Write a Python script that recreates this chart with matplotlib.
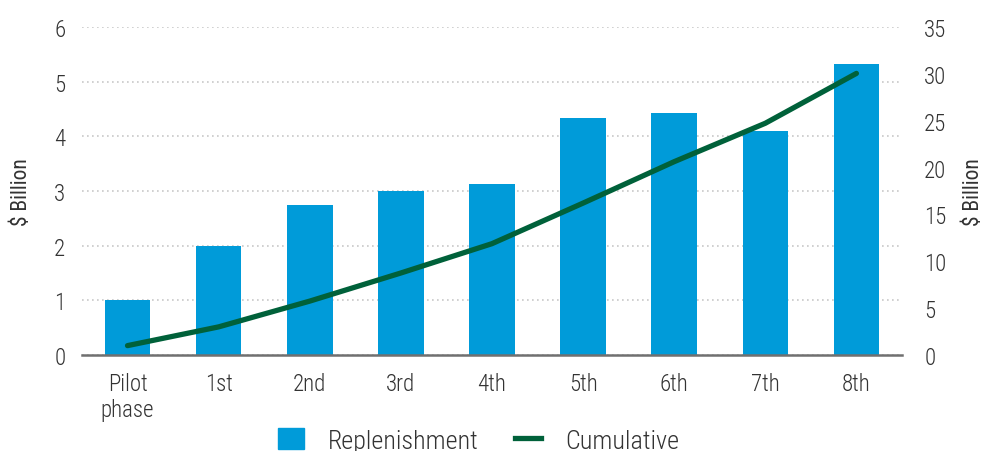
import matplotlib.pyplot as plt
from matplotlib import font_manager
from matplotlib.lines import Line2D
from matplotlib.patches import Patch

names = {f.name for f in font_manager.fontManager.ttflist}
family = next((n for n in ['Roboto Condensed', 'Liberation Sans Narrow', 'Roboto'] if n in names), 'DejaVu Sans')
plt.rcParams['font.family'] = [family, 'DejaVu Sans']
plt.rcParams['font.weight'] = 'light'

# Replenishment rounds, $ billion
phases = ['Pilot\nphase', '1st', '2nd', '3rd', '4th', '5th', '6th', '7th', '8th']
replenishment = [1.0, 2.0, 2.75, 3.0, 3.13, 4.33, 4.42, 4.1, 5.32]
cumulative = [1.0, 3.0, 5.75, 8.75, 11.88, 16.21, 20.63, 24.73, 30.05]

bar_color = '#009BD9'
line_color = '#00613A'
text_color = '#333333'

fig = plt.figure(figsize=(9.85, 4.52), dpi=100)
ax = fig.add_axes([0.0832, 0.2124, 0.8325, 0.7256])
ax2 = ax.twinx()

x = range(len(phases))
ax.bar(x, replenishment, width=0.5, color=bar_color, zorder=2)
ax2.plot(x, cumulative, color=line_color, lw=3.8, solid_capstyle='round', zorder=3)

ax.set_xlim(-0.5, 8.5)
ax.set_ylim(0, 6)
ax2.set_ylim(0, 35)
ax.set_yticks(range(0, 7))
ax2.set_yticks(range(0, 36, 5))
ax.set_xticks(list(x))
ax.set_xticklabels(phases)

ax.grid(axis='y', color='#c8c8c8', linestyle=(0, (1, 2)), lw=1.2, zorder=0)
ax.set_axisbelow(True)
for a in (ax, ax2):
    for s in ('top', 'left', 'right', 'bottom'):
        a.spines[s].set_visible(False)
    a.tick_params(length=0, labelsize=16.5, labelcolor=text_color)
ax.spines['bottom'].set_visible(True)
ax.spines['bottom'].set_color('#707070')
ax.spines['bottom'].set_linewidth(1.8)
ax.tick_params(axis='y', pad=12)
ax.tick_params(axis='x', pad=12)
ax2.tick_params(axis='y', pad=16)

ax.set_ylabel('$ Billion', fontsize=15.5, color=text_color, labelpad=16)
ax2.set_ylabel('$ Billion', fontsize=15.5, color=text_color, labelpad=12)

handles = [Patch(color=bar_color), Line2D([], [], color=line_color, lw=3.8)]
fig.legend(handles, ['Replenishment', 'Cumulative'], loc='center', ncol=2,
           bbox_to_anchor=(0.486, 0.024), frameon=False, fontsize=18.8,
           handlelength=1.0, handleheight=0.9, handletextpad=0.9, columnspacing=1.4,
           labelcolor=text_color)

fig.savefig('out.png', dpi=100)
